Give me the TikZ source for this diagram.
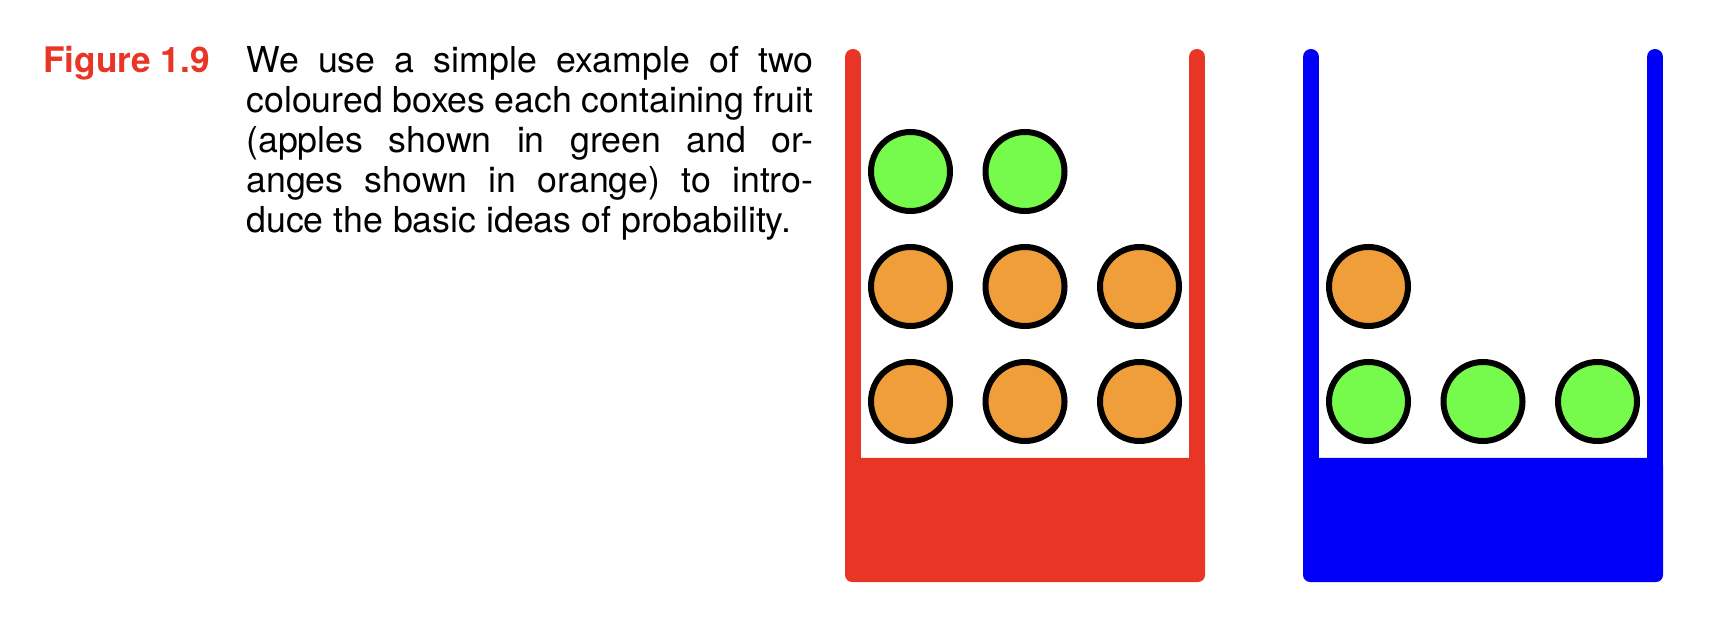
\documentclass[tikz,border=0pt]{standalone}
\usepackage{fontspec}
\setmainfont{TeX Gyre Heros}
\definecolor{boxred}{RGB}{233,53,38}
\definecolor{boxblue}{RGB}{0,0,250}
\definecolor{applegreen}{RGB}{118,250,76}
\definecolor{orangefill}{RGB}{240,158,58}
\begin{document}
\begin{tikzpicture}[x=0.5pt,y=-0.5pt,
  fruit/.style={circle,draw=black,line width=3pt,minimum size=39.5pt,inner sep=0pt},
  apple/.style={fruit,fill=applegreen},
  orangefruit/.style={fruit,fill=orangefill},
  wall/.style={line width=8pt,line cap=round},
  bodyline/.style={anchor=base west,inner sep=0pt,font=\fontsize{17.85}{20}\selectfont},
  caption/.style={anchor=base west,inner sep=0pt,text=boxred,font=\bfseries\fontsize{17.6}{20}\selectfont}
]
\path[use as bounding box] (0,0) rectangle (1724,630);

% caption text
\node[caption] (fig) at (43,72.5) {Figure 1.9};
\node[bodyline] (l1) at (246,73) {\makebox[283.5pt][s]{We use a simple example of two}};
\node[bodyline] (l2) at (246,113) {\makebox[283.5pt][s]{coloured boxes each containing fruit}};
\node[bodyline] (l3) at (246,153) {\makebox[283.5pt][s]{(apples shown in green and or-}};
\node[bodyline] (l4) at (246,193) {\makebox[283.5pt][s]{anges shown in orange) to intro-}};
\node[bodyline] (l5) at (246,233) {duce the basic ideas of probability.};

% red box
\draw[wall,boxred] (853,57) -- (853,470);
\draw[wall,boxred] (1197,57) -- (1197,470);
\fill[boxred,rounded corners=3.5pt] (845,458) rectangle (1205,582);

% blue box
\draw[wall,boxblue] (1311,57) -- (1311,470);
\draw[wall,boxblue] (1655,57) -- (1655,470);
\fill[boxblue,rounded corners=3.5pt] (1303,458) rectangle (1663,582);

% fruit in red box
\node[apple] (ra1) at (910.5,171.5) {};
\node[apple] (ra2) at (1025,171.5) {};
\node[orangefruit] (ro1) at (910.5,286.5) {};
\node[orangefruit] (ro2) at (1025,286.5) {};
\node[orangefruit] (ro3) at (1139.5,286.5) {};
\node[orangefruit] (ro4) at (910.5,401.5) {};
\node[orangefruit] (ro5) at (1025,401.5) {};
\node[orangefruit] (ro6) at (1139.5,401.5) {};

% fruit in blue box
\node[orangefruit] (bo1) at (1368.5,286.5) {};
\node[apple] (ba1) at (1368.5,401.5) {};
\node[apple] (ba2) at (1483,401.5) {};
\node[apple] (ba3) at (1597.5,401.5) {};
\end{tikzpicture}
\end{document}
